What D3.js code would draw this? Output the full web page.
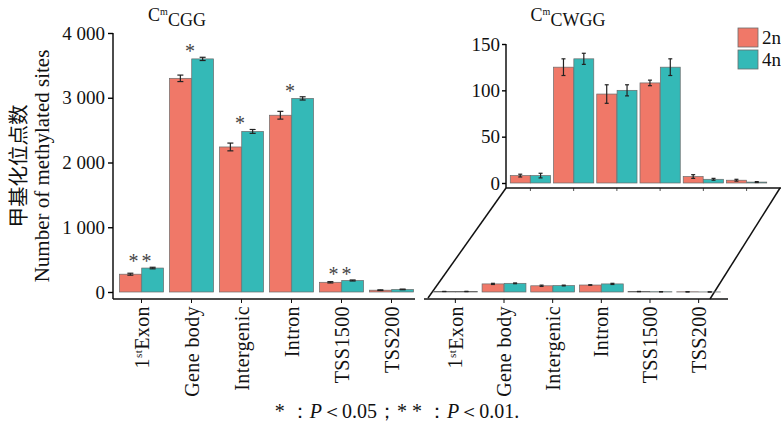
<!DOCTYPE html>
<html>
<head>
<meta charset="utf-8">
<script src="https://cdn.jsdelivr.net/npm/d3@7"></script>
<style>
  body { margin: 0; background: #fff; }
  svg text { font-family: "Liberation Serif", "DejaVu Serif", serif; }
</style>
</head>
<body>
<div id="chart"></div>
<script>
const categories = ["1stExon", "Gene body", "Intergenic", "Intron", "TSS1500", "TSS200"];
const groups = ["2n", "4n"];

// CmCGG
const cgg2n = [275, 3300, 2240, 2730, 150, 28];
const cgg2nErr = [15, 50, 60, 60, 10, 5];
const cgg4n = [370, 3600, 2480, 2990, 178, 40];
const cgg4nErr = [12, 25, 30, 25, 8, 5];
const cggSig = ["**", "*", "*", "*", "**", ""];

// CmCWGG
const cwgg2n = [8, 125, 96, 108, 7, 3];
const cwgg2nErr = [1.5, 9, 10, 3, 2, 1];
const cwgg4n = [8, 134, 100, 125, 4, 1];
const cwgg4nErr = [2.5, 6, 6, 9, 1, 0.5];

const cggTicks = [0, 1000, 2000, 3000, 4000];
const cggTickLabels = ["0", "1 000", "2 000", "3 000", "4 000"];
const cwggTicks = [0, 50, 100, 150];

const colors = { "2n": "#F07868", "4n": "#34B9B7" };
const SERIF = "Liberation Serif";

const width = 781, height = 431;
const svg = d3.select("#chart").append("svg")
    .attr("width", width)
    .attr("height", height)
    .attr("font-family", SERIF);

function rows(v2, e2, v4, e4) {
    return categories.map((c, i) => ({
        cat: c,
        vals: [
            { g: "2n", v: v2[i], e: e2[i] },
            { g: "4n", v: v4[i], e: e4[i] }
        ]
    }));
}
const cggData = rows(cgg2n, cgg2nErr, cgg4n, cgg4nErr);
const cwggData = rows(cwgg2n, cwgg2nErr, cwgg4n, cwgg4nErr);

// grouped bars + error bars
function drawBars(g, data, x, y, errWidth) {
    const xs = d3.scaleBand().domain(groups).range([0, x.bandwidth()]).padding(0.02);
    const grp = g.selectAll(".grp").data(data).enter().append("g")
        .attr("transform", d => `translate(${x(d.cat)},0)`);
    grp.selectAll("rect").data(d => d.vals).enter().append("rect")
        .attr("x", d => xs(d.g))
        .attr("y", d => y(d.v))
        .attr("width", xs.bandwidth())
        .attr("height", d => y(0) - y(d.v))
        .attr("fill", d => colors[d.g])
        .attr("stroke", "#6b6b6b")
        .attr("stroke-width", 0.7);
    const eb = grp.selectAll(".eb").data(d => d.vals).enter().append("g")
        .attr("stroke", "#222").attr("stroke-width", 1.2);
    eb.append("line")
        .attr("x1", d => xs(d.g) + xs.bandwidth() / 2)
        .attr("x2", d => xs(d.g) + xs.bandwidth() / 2)
        .attr("y1", d => y(d.v - d.e))
        .attr("y2", d => y(d.v + d.e));
    [1, -1].forEach(s => {
        eb.append("line")
            .attr("x1", d => xs(d.g) + xs.bandwidth() / 2 - errWidth / 2)
            .attr("x2", d => xs(d.g) + xs.bandwidth() / 2 + errWidth / 2)
            .attr("y1", d => y(d.v + s * d.e))
            .attr("y2", d => y(d.v + s * d.e));
    });
}

function catLabels(g, x, y0) {
    const t = g.selectAll(".lbl").data(categories).enter().append("text")
        .attr("transform", d => `translate(${x(d) + x.bandwidth() / 2},${y0}) rotate(-90)`)
        .attr("text-anchor", "end")
        .attr("dy", "0.35em")
        .attr("font-family", SERIF)
        .attr("font-size", 20)
        .attr("letter-spacing", 0.4)
        .attr("fill", "#111");
    t.each(function (d) {
        const el = d3.select(this);
        if (d === "1stExon") {
            el.append("tspan").text("1");
            el.append("tspan").attr("font-size", 11).attr("dy", "-0.55em").text("st");
            el.append("tspan").attr("dy", "0.35em").text("Exon");
        } else {
            el.text(d);
        }
    });
}

// ---- left panel: CmCGG ----
const xL = d3.scaleBand().domain(categories).range([118, 415]).paddingInner(0.1).paddingOuter(0.02);
const yL = d3.scaleLinear().domain([0, 4000]).range([292, 33]);
const left = svg.append("g");

left.append("line").attr("x1", 113).attr("x2", 113).attr("y1", 33).attr("y2", 299)
    .attr("stroke", "#111").attr("stroke-width", 1.5);
left.append("line").attr("x1", 113).attr("x2", 415).attr("y1", 299).attr("y2", 299)
    .attr("stroke", "#111").attr("stroke-width", 1.5);

const yAxisL = left.append("g")
    .attr("transform", "translate(113,0)")
    .call(d3.axisLeft(yL).tickValues(cggTicks).tickFormat((d, i) => cggTickLabels[i]).tickSize(5).tickPadding(3));
yAxisL.attr("font-family", SERIF);
yAxisL.select(".domain").remove();
yAxisL.selectAll("text").attr("font-size", 19).attr("fill", "#111");
yAxisL.selectAll("line").attr("stroke-width", 1.4);

left.selectAll(".xt").data(categories).enter().append("line")
    .attr("x1", d => xL(d) + xL.bandwidth() / 2).attr("x2", d => xL(d) + xL.bandwidth() / 2)
    .attr("y1", 299).attr("y2", 303).attr("stroke", "#111");

drawBars(left, cggData, xL, yL, 6);
catLabels(left, xL, 306);

left.selectAll(".sig").data(cggData).enter().append("text")
    .attr("x", d => xL(d.cat) + xL.bandwidth() / 2)
    .attr("y", d => yL(d3.max(d.vals, v => v.v + v.e)) + 1)
    .attr("text-anchor", "middle")
    .attr("font-family", SERIF)
    .attr("font-size", 20)
    .attr("letter-spacing", 3)
    .attr("fill", "#444")
    .text((d, i) => cggSig[i]);

const titleL = left.append("text").attr("x", 177).attr("y", 21)
    .attr("text-anchor", "middle").attr("font-size", 18).attr("fill", "#111");
titleL.append("tspan").text("C");
titleL.append("tspan").attr("font-size", 10).attr("dy", "-0.6em").text("m");
titleL.append("tspan").attr("dy", "0.6em").text("CGG");

// axis title
const yt = svg.append("g").attr("transform", "translate(0,166) rotate(-90)");
yt.append("text").attr("x", 0).attr("y", 26).attr("text-anchor", "middle")
    .style("font-family", "'Noto Sans CJK SC'").attr("font-size", 20.5).attr("fill", "#111")
    .text("甲基化位点数");
yt.append("text").attr("x", 0).attr("y", 49).attr("text-anchor", "middle")
    .attr("font-size", 21).attr("fill", "#111")
    .text("Number of methylated sites");

// ---- right panel: CmCWGG (zoomed) ----
const right = svg.append("g");
const xR = d3.scaleBand().domain(categories).range([509, 768]).paddingInner(0.05).paddingOuter(0.02);
const yR = d3.scaleLinear().domain([0, 150]).range([183, 44]);

right.append("line").attr("x1", 506).attr("x2", 506).attr("y1", 44).attr("y2", 188)
    .attr("stroke", "#111").attr("stroke-width", 1.5);
const yAxisR = right.append("g")
    .attr("transform", "translate(506,0)")
    .call(d3.axisLeft(yR).tickValues(cwggTicks).tickSize(4).tickPadding(2));
yAxisR.attr("font-family", SERIF);
yAxisR.select(".domain").remove();
yAxisR.selectAll("text").attr("font-size", 19).attr("fill", "#111");
yAxisR.selectAll("line").attr("stroke-width", 1.4);

right.selectAll(".xt").data(categories).enter().append("line")
    .attr("x1", d => xR(d) + xR.bandwidth() / 2).attr("x2", d => xR(d) + xR.bandwidth() / 2)
    .attr("y1", 188).attr("y2", 191).attr("stroke", "#555");

drawBars(right, cwggData, xR, yR, 4);

const titleR = right.append("text").attr("x", 568).attr("y", 21)
    .attr("text-anchor", "middle").attr("font-size", 18).attr("fill", "#111");
titleR.append("tspan").text("C");
titleR.append("tspan").attr("font-size", 10).attr("dy", "-0.6em").text("m");
titleR.append("tspan").attr("dy", "0.6em").text("CWGG");

// zoom parallelogram and bottom strip on the CmCGG scale
const xB = d3.scaleBand().domain(categories).range([432, 722]).paddingInner(0.08).paddingOuter(0.02);
const frame = svg.append("g").attr("stroke", "#111").attr("stroke-width", 1.5).attr("fill", "none");
frame.append("line").attr("x1", 506).attr("y1", 188).attr("x2", 781).attr("y2", 188);
frame.append("line").attr("x1", 506).attr("y1", 188).attr("x2", 428).attr("y2", 298);
frame.append("line").attr("x1", 780).attr("y1", 188).attr("x2", 710).attr("y2", 299);
frame.append("line").attr("x1", 424).attr("y1", 299).attr("x2", 728).attr("y2", 299);

const bottom = svg.append("g");
drawBars(bottom, cwggData, xB, yL, 4);
bottom.selectAll(".xt").data(categories).enter().append("line")
    .attr("x1", d => xB(d) + xB.bandwidth() / 2).attr("x2", d => xB(d) + xB.bandwidth() / 2)
    .attr("y1", 299).attr("y2", 303).attr("stroke", "#111");
catLabels(bottom, xB, 306);

// legend
const legend = svg.append("g").attr("transform", "translate(738,28)");
groups.forEach((g, i) => {
    legend.append("rect").attr("x", 0).attr("y", i * 22).attr("width", 20).attr("height", 19)
        .attr("fill", colors[g]).attr("stroke", "#6b6b6b").attr("stroke-width", 0.8);
    legend.append("text").attr("x", 24).attr("y", i * 22 + 16)
        .attr("font-size", 19).attr("fill", "#111").text(g);
});

// footnote
const note = svg.append("text").attr("x", 397).attr("y", 418)
    .attr("text-anchor", "middle").attr("font-size", 20).attr("fill", "#111");
note.append("tspan").text("* ：");
note.append("tspan").attr("font-style", "italic").text("P");
note.append("tspan").text("＜0.05；* * ：");
note.append("tspan").attr("font-style", "italic").text("P");
note.append("tspan").text("＜0.01.");
</script>
</body>
</html>
